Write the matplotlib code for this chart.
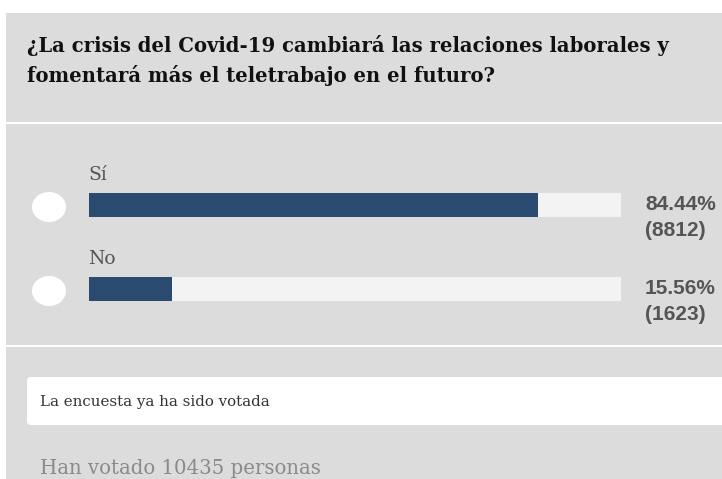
import matplotlib.pyplot as plt
from matplotlib.patches import FancyBboxPatch, Ellipse, Rectangle

# datos de la encuesta
title_lines = ["¿La crisis del Covid-19 cambiará las relaciones laborales y",
               "fomentará más el teletrabajo en el futuro?"]
options = ["Sí", "No"]
percents = [84.44, 15.56]
votes = [8812, 1623]
total_votes = 10435
status_text = "La encuesta ya ha sido votada"

W, H = 722, 479
fig = plt.figure(figsize=(W / 100, H / 100), dpi=100)

# capa de fondo en coordenadas de pixel
bg = fig.add_axes([0, 0, 1, 1])
bg.set_xlim(0, W)
bg.set_ylim(H, 0)
bg.axis("off")
bg.add_patch(Rectangle((6, 13), W, H, color="#dcdcdc", lw=0))
bg.plot([6, W], [123, 123], color="white", lw=1.5)
bg.plot([6, W], [346, 346], color="white", lw=1.5)

serif = ["DejaVu Serif"]
sans = ["Liberation Sans", "DejaVu Sans"]
for i, line in enumerate(title_lines):
    bg.text(27, 45 + i * 30, line, fontsize=14.1, fontweight="bold",
            family=serif, color="#111111", va="center")

# barras
bar_left, bar_right = 89, 621
bar_top, bar_bottom = 193, 301
ax = fig.add_axes([bar_left / W, 1 - bar_bottom / H,
                   (bar_right - bar_left) / W, (bar_bottom - bar_top) / H])
ax.set_xlim(0, 100)
ax.set_ylim(1 + 0.5 * 24 / 84, -0.5 * 24 / 84)  # 84 px entre barras
ax.axis("off")
ypos = list(range(len(options)))
ax.barh(ypos, [100] * len(options), height=24 / 84, color="#f3f3f3", lw=0)
ax.barh(ypos, percents, height=24 / 84, color="#2b4a70", lw=0)

for i, (opt, pct, n) in enumerate(zip(options, percents, votes)):
    yc = 205 + i * 84
    bg.add_patch(Ellipse((49, yc + 2), 34, 30, color="white", lw=0))
    bg.text(88, yc - 30, opt, fontsize=13.5, family=serif, color="#555555",
            va="center")
    bg.text(645, yc, f"{pct:.2f}%", fontsize=15, fontweight="bold",
            family=sans, color="#555555", va="center")
    bg.text(645, yc + 25, f"({n})", fontsize=15, fontweight="bold",
            family=sans, color="#555555", va="center")

# caja blanca
bg.add_patch(FancyBboxPatch((27, 377), W, 48,
                            boxstyle="round,pad=0,rounding_size=4",
                            fc="white", ec="none"))
bg.text(40, 402, status_text, fontsize=10.8, family=serif, color="#333333",
        va="center")
bg.text(40, 468, f"Han votado {total_votes} personas", fontsize=14.2,
        family=serif, color="#8a8a8a", va="center")

fig.savefig("out.png", dpi=100)
